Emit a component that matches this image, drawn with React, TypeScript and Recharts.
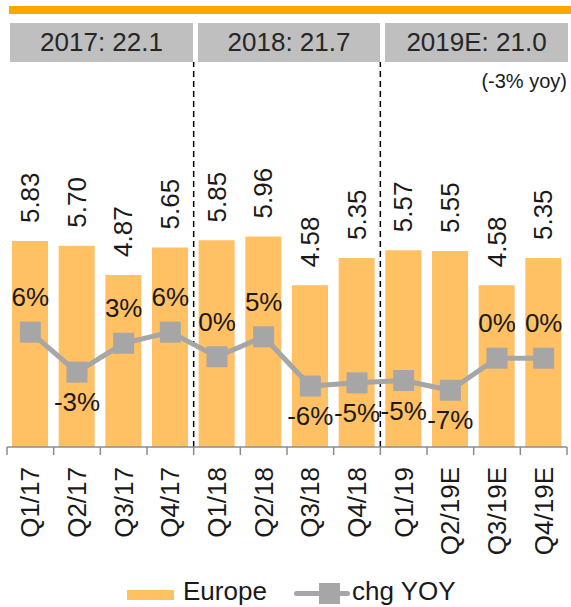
import React from "react";
import { ComposedChart, Bar, Line, XAxis, YAxis, LabelList, ReferenceLine } from "recharts";

const quarters = ["Q1/17", "Q2/17", "Q3/17", "Q4/17", "Q1/18", "Q2/18", "Q3/18", "Q4/18", "Q1/19", "Q2/19E", "Q3/19E", "Q4/19E"];
const europe = [5.83, 5.7, 4.87, 5.65, 5.85, 5.96, 4.58, 5.35, 5.57, 5.55, 4.58, 5.35];
const chgYoy = [5.6, -3.0, 3.2, 5.6, 0.3, 4.6, -6.0, -5.3, -4.8, -6.9, 0, 0];
const yearTotals = ["2017: 22.1", "2018: 21.7", "2019E: 21.0"];
const yearStarts = ["Q1/18", "Q1/19"];
const yoyNote = "(-3% yoy)";

const data = quarters.map((q, i) => ({ q, europe: europe[i], chg: chgYoy[i] }));

const FONT = "'Liberation Sans', Arial, sans-serif";
const W = 571;
const H = 557;
const MARGIN = { top: 62, right: 4, bottom: 0, left: 7 };
const BAND = (W - MARGIN.left - MARGIN.right) / quarters.length;
const ORANGE = "#FFC164";
const GREY = "#A6A6A6";
const INK = "#1a1a1a";
const FS = 26;

const BarValueLabel = (props: any) => {
  const { x, y, width, value } = props;
  const cx = x + width / 2;
  const ty = y - 18;
  return (
    <text x={cx} y={ty} transform={`rotate(-90 ${cx} ${ty})`} textAnchor="start" dominantBaseline="central"
      fontSize={FS} fontFamily={FONT} fill={INK}>
      {Number(value).toFixed(2)}
    </text>
  );
};

const YoyLabel = (props: any) => {
  const { x, y, value } = props;
  const v = Number(value);
  const ty = v >= 0 ? y - 35 : y + 30;
  return (
    <text x={x} y={ty} textAnchor="middle" dominantBaseline="central" fontSize={FS} fontFamily={FONT} fill={INK}>
      {`${Math.round(v)}%`}
    </text>
  );
};

const SquareDot = (props: any) => {
  const { cx, cy, index } = props;
  return <rect key={`d${index}`} x={cx - 10.5} y={cy - 10.5} width={21} height={21} fill={GREY} />;
};

const QuarterTick = (props: any) => {
  const { x, y, payload, index } = props;
  const ty = y + 20;
  return (
    <g>
      <line x1={x - BAND / 2} x2={x - BAND / 2} y1={y} y2={y + 8} stroke="#8c8c8c" strokeWidth={1.5} />
      {index === quarters.length - 1 && (
        <line x1={x + BAND / 2} x2={x + BAND / 2} y1={y} y2={y + 8} stroke="#8c8c8c" strokeWidth={1.5} />
      )}
      <text x={x} y={ty} transform={`rotate(-90 ${x} ${ty})`} textAnchor="end" dominantBaseline="central"
        fontSize={FS} fontFamily={FONT} fill={INK}>
        {payload.value}
      </text>
    </g>
  );
};

const headerBoxes = [
  { left: 10, width: 183 },
  { left: 198, width: 182 },
  { left: 385, width: 183 },
];

export default function App() {
  return (
    <div style={{ position: "absolute", left: 0, top: 0, width: W, height: 607, overflow: "hidden", fontFamily: FONT, color: INK }}>
      <div style={{ position: "absolute", left: 9, top: 6, width: 562, height: 8, background: "#FFA500" }} />
      {yearTotals.map((t, i) => (
        <div key={t} style={{
          position: "absolute", top: 23, height: 39, left: headerBoxes[i].left, width: headerBoxes[i].width,
          background: "#BFBFBF", display: "flex", alignItems: "center", justifyContent: "center",
          fontSize: FS, color: "#262626",
        }}>{t}</div>
      ))}
      <div style={{ position: "absolute", right: 4, top: 70, fontSize: 20 }}>{yoyNote}</div>

      <div style={{ position: "absolute", left: 0, top: 0 }}>
        <ComposedChart width={W} height={H} data={data} margin={MARGIN} barCategoryGap="12%">
          <XAxis dataKey="q" interval={0} height={110} tickLine={false} tickSize={0} tickMargin={0}
            axisLine={{ stroke: "#8c8c8c", strokeWidth: 1.5 }} tick={<QuarterTick />} />
          <YAxis yAxisId="v" hide domain={[0, 10.9]} allowDataOverflow />
          <YAxis yAxisId="p" hide domain={[-19.1, 63.7]} allowDataOverflow />
          {yearStarts.map((q) => (
            <ReferenceLine key={q} yAxisId="v" x={q} position="start" stroke="#000" strokeWidth={1.5} strokeDasharray="6 4" />
          ))}
          <Bar yAxisId="v" dataKey="europe" fill={ORANGE} barSize={36} isAnimationActive={false}>
            <LabelList dataKey="europe" content={<BarValueLabel />} />
          </Bar>
          <Line yAxisId="p" dataKey="chg" stroke={GREY} strokeWidth={5} dot={<SquareDot />} activeDot={false}
            isAnimationActive={false}>
            <LabelList dataKey="chg" content={<YoyLabel />} />
          </Line>
        </ComposedChart>
      </div>

      <div style={{ position: "absolute", left: 127, top: 590, width: 47, height: 10, background: ORANGE }} />
      <div style={{ position: "absolute", left: 183, top: 576, fontSize: FS, lineHeight: "30px" }}>Europe</div>
      <div style={{ position: "absolute", left: 294, top: 591, width: 56, height: 5, background: GREY, borderRadius: 3 }} />
      <div style={{ position: "absolute", left: 319, top: 583, width: 21, height: 21, background: GREY }} />
      <div style={{ position: "absolute", left: 352, top: 576, fontSize: FS, lineHeight: "30px" }}>chg YOY</div>
    </div>
  );
}
